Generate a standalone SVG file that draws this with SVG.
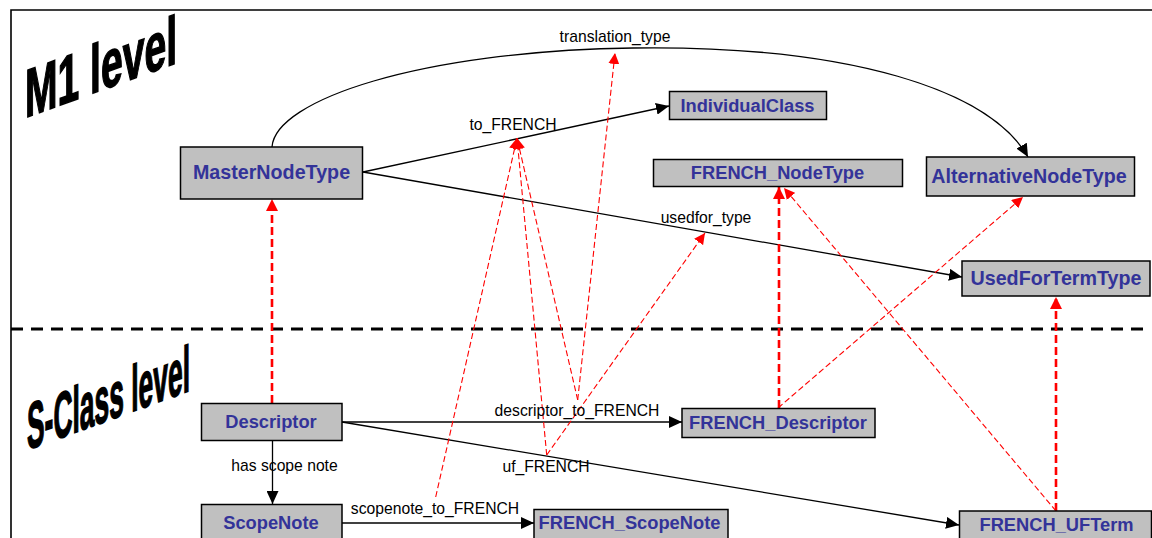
<svg xmlns="http://www.w3.org/2000/svg" width="1152" height="538" viewBox="0 0 1152 538">
  <defs>
    <marker id="ah" markerUnits="userSpaceOnUse" markerWidth="13" markerHeight="12" refX="13" refY="6" orient="auto">
      <path d="M0,0 L13,6 L0,12 z" fill="#000"/>
    </marker>
    <marker id="rah" markerUnits="userSpaceOnUse" markerWidth="11" markerHeight="11" refX="11" refY="5.5" orient="auto">
      <path d="M0,0 L11,5.5 L0,11 z" fill="#f00"/>
    </marker>
    <marker id="rah-big" markerUnits="userSpaceOnUse" markerWidth="12" markerHeight="12" refX="12" refY="6" orient="auto">
      <path d="M0,0 L12,6 L0,12 z" fill="#f00"/>
    </marker>
    <style>
      .node rect { fill: #C0C0C0; stroke: #000; stroke-width: 1.5; }
      .node text { font-family: "Liberation Sans", Arial, sans-serif; font-weight: bold; fill: #333399; text-anchor: middle; font-size: 18.3px; }
      .node.big text { font-size: 19.7px; }
      .lbl { font-family: "Liberation Sans", Arial, sans-serif; font-size: 15.7px; fill: #000; text-anchor: middle; }
      .conn { stroke: #000; stroke-width: 1.3; fill: none; marker-end: url(#ah); }
      .trace-thick { stroke: #f00; stroke-width: 2.6; stroke-dasharray: 8 4; fill: none; marker-end: url(#rah-big); }
      .trace { stroke: #f00; stroke-width: 1.1; stroke-dasharray: 6 3; fill: none; marker-end: url(#rah); }
      .level { font-family: "Liberation Sans", Arial, sans-serif; font-weight: bold; fill: #000; stroke: #000; stroke-width: 1.6; }
    </style>
  </defs>

  <rect width="1152" height="538" fill="#fff"/>

  <!-- frame and level divider -->
  <g id="frame">
    <path d="M11,538 L11,10 L1152,10" fill="none" stroke="#000" stroke-width="1.6"/>
    <line x1="11" y1="329" x2="1147" y2="329" stroke="#000" stroke-width="3" stroke-dasharray="12 8"/>
  </g>

  <!-- level titles -->
  <g id="level-titles">
    <text class="level" font-size="68" transform="translate(25,118) skewY(-20)" textLength="152" lengthAdjust="spacingAndGlyphs">M1 level</text>
    <text class="level" font-size="65" transform="translate(27,450) skewY(-20)" textLength="163" lengthAdjust="spacingAndGlyphs">S-Class level</text>
  </g>

  <!-- connectors -->
  <g id="connectors">
    <!-- associations -->
    <path class="conn" d="M272,147 C275,100 420,51 633,48 C850,45 990,90 1028,157"/>
    <line class="conn" x1="363" y1="172" x2="669" y2="106"/>
    <line class="conn" x1="363" y1="172" x2="962" y2="277"/>
    <line class="conn" x1="342" y1="422" x2="682" y2="422"/>
    <line class="conn" x1="342" y1="422" x2="959" y2="525"/>
    <line class="conn" x1="272.5" y1="440" x2="272.5" y2="504"/>
    <line class="conn" x1="342" y1="523" x2="534" y2="523"/>

    <!-- instance-of links -->
    <line class="trace-thick" x1="272" y1="403" x2="272" y2="199"/>
    <line class="trace-thick" x1="779" y1="408" x2="779" y2="187"/>
    <line class="trace-thick" x1="1056" y1="511" x2="1056" y2="297"/>
    <line class="trace" x1="778" y1="408" x2="1023" y2="197"/>
    <line class="trace" x1="1056" y1="511" x2="784" y2="188"/>
    <line class="trace" x1="435.7" y1="497" x2="517" y2="138"/>
    <line class="trace" x1="546.7" y1="455" x2="517" y2="138"/>
    <line class="trace" x1="577.7" y1="400" x2="517" y2="138"/>
    <line class="trace" x1="577.7" y1="400" x2="615" y2="53"/>
    <line class="trace" x1="546.7" y1="455" x2="705" y2="233"/>

    <!-- connector labels -->
    <text class="lbl" x="615" y="42">translation_type</text>
    <text class="lbl" x="513" y="130">to_FRENCH</text>
    <text class="lbl" x="706" y="223">usedfor_type</text>
    <text class="lbl" x="577" y="415.5">descriptor_to_FRENCH</text>
    <text class="lbl" x="546" y="471.5">uf_FRENCH</text>
    <text class="lbl" x="284.5" y="470.5">has scope note</text>
    <text class="lbl" x="435" y="513.5">scopenote_to_FRENCH</text>
  </g>

  <!-- M1 level nodes -->
  <g id="MasterNodeType" class="node big">
    <rect x="180.5" y="147" width="182" height="52"/>
    <text x="271.5" y="179">MasterNodeType</text>
  </g>
  <g id="IndividualClass" class="node">
    <rect x="669.5" y="91.5" width="157" height="28"/>
    <text x="747.5" y="111.5">IndividualClass</text>
  </g>
  <g id="FRENCH_NodeType" class="node">
    <rect x="653.5" y="159.5" width="249" height="27"/>
    <text x="777.5" y="178.5">FRENCH_NodeType</text>
  </g>
  <g id="AlternativeNodeType" class="node big">
    <rect x="926.5" y="157" width="208" height="39"/>
    <text x="1029" y="183">AlternativeNodeType</text>
  </g>
  <g id="UsedForTermType" class="node big">
    <rect x="962" y="261" width="188" height="35"/>
    <text x="1056" y="284.5">UsedForTermType</text>
  </g>

  <!-- S-Class level nodes -->
  <g id="Descriptor" class="node">
    <rect x="201.5" y="403.5" width="140.5" height="37"/>
    <text x="271" y="428">Descriptor</text>
  </g>
  <g id="ScopeNote" class="node">
    <rect x="201.5" y="504.5" width="140.5" height="40"/>
    <text x="271" y="529">ScopeNote</text>
  </g>
  <g id="FRENCH_Descriptor" class="node">
    <rect x="682" y="408.5" width="193" height="29"/>
    <text x="778" y="428.5">FRENCH_Descriptor</text>
  </g>
  <g id="FRENCH_ScopeNote" class="node">
    <rect x="534" y="509.5" width="194" height="35"/>
    <text x="629.5" y="529">FRENCH_ScopeNote</text>
  </g>
  <g id="FRENCH_UFTerm" class="node">
    <rect x="959.5" y="511" width="192" height="35"/>
    <text x="1056.5" y="531">FRENCH_UFTerm</text>
  </g>
</svg>
